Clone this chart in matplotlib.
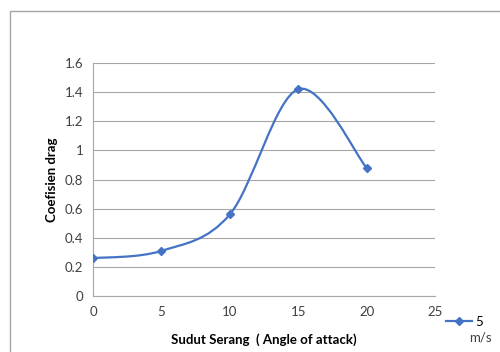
import matplotlib
matplotlib.use('Agg')
import matplotlib.pyplot as plt
from matplotlib.path import Path
from matplotlib.patches import PathPatch, Rectangle
from matplotlib.ticker import FuncFormatter

# Data
sudut = [0, 5, 10, 15, 20]
cd = [0.26, 0.31, 0.56, 1.42, 0.88]
label_seri = '5'

plt.rcParams['font.family'] = ['Lato', 'DejaVu Sans']
biru = '#4472C4'
abu = '#a6a6a6'

fig = plt.figure(figsize=(5, 3.52), dpi=100)
ax = fig.add_axes([0.186, 0.159, 0.684, 0.662])

# garis halus ala Excel (Bezier melalui titik data)
n = len(sudut)
verts = [(sudut[0], cd[0])]
codes = [Path.MOVETO]
for i in range(n - 1):
    x0, y0 = (sudut[i - 1], cd[i - 1]) if i > 0 else (sudut[i], cd[i])
    x1, y1 = sudut[i], cd[i]
    x2, y2 = sudut[i + 1], cd[i + 1]
    x3, y3 = (sudut[i + 2], cd[i + 2]) if i + 2 < n else (x2, y2)
    c1 = (x1 + (x2 - x0) / 6, y1 + (y2 - y0) / 6)
    c2 = (x2 - (x3 - x1) / 6, y2 - (y3 - y1) / 6)
    verts += [c1, c2, (x2, y2)]
    codes += [Path.CURVE4] * 3
ax.add_patch(PathPatch(Path(verts, codes), fill=False, edgecolor=biru, lw=1.6, zorder=3))
ax.plot(sudut, cd, linestyle='none', marker='D', markersize=4, color=biru, zorder=4)

ax.set_xlim(0, 25)
ax.set_ylim(0, 1.6)
ax.set_xticks(range(0, 26, 5))
ax.set_yticks([i * 0.2 for i in range(9)])
ax.yaxis.set_major_formatter(FuncFormatter(lambda v, p: '{:g}'.format(round(v, 1))))
ax.grid(axis='y', color=abu, lw=0.8)
ax.set_axisbelow(True)
for s in ['top', 'right']:
    ax.spines[s].set_visible(False)
ax.spines['left'].set_color(abu)
ax.spines['bottom'].set_color(abu)
ax.tick_params(length=0, labelsize=9.5, colors='#404040', pad=7)

ax.set_xlabel('Sudut Serang  ( Angle of attack)', fontsize=9.5, fontweight='bold', labelpad=11)
ax.set_ylabel('Coefisien drag', fontsize=9.5, fontweight='bold', labelpad=5)

# legenda
fig.legend(handles=[plt.Line2D([], [], color=biru, lw=1.6, marker='D', markersize=4)],
           labels=[label_seri], loc='center left', bbox_to_anchor=(0.868, 0.085),
           frameon=False, fontsize=9.5, handlelength=2.0, handletextpad=0.2)
fig.text(0.938, 0.04, 'm/s', fontsize=9.5, color='#404040', va='center')

# bingkai luar
fig.patches.append(Rectangle((0.02, -0.1), 1.1, 1.069, transform=fig.transFigure,
                             fill=False, edgecolor=abu, lw=1))

fig.savefig('out.png', dpi=100)
